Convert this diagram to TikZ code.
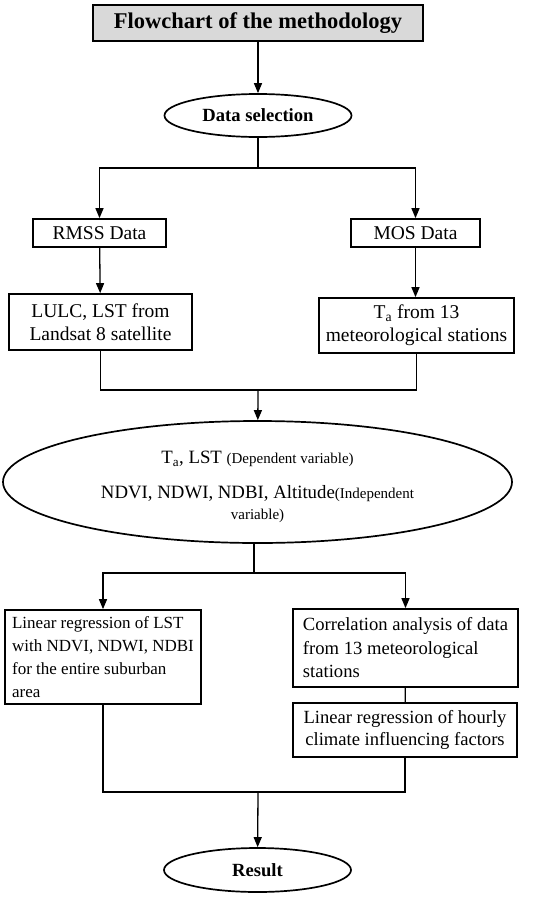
\documentclass[tikz,border=0pt]{standalone}
\usepackage{fontspec}
\setmainfont{Liberation Serif}
\usepackage{tikz}
\usetikzlibrary{arrows.meta,shapes.geometric}

\newcommand{\boxfont}{\fontsize{19.5}{23}\selectfont}
\newcommand{\smallvar}{\fontsize{15}{18}\selectfont}

\begin{document}
\begin{tikzpicture}[x=1pt,y=-1pt,
    conn/.style={line width=1.3pt},
    arr/.style={conn,-{Triangle[length=10pt,width=8pt]}},
    stepbox/.style={draw,line width=1.7pt,inner sep=2pt,font=\boxfont},
    oval/.style={ellipse,draw,line width=1.7pt,inner sep=0pt},
    ]
    \useasboundingbox (0,0) rectangle (550,897);
    % Title and first oval
    \node[draw,line width=2.8pt,fill=black!15,minimum width=330pt,minimum height=36pt,
        font=\fontsize{22.5}{26}\selectfont\bfseries] (title) at (258,23) {Flowchart of the methodology};
    \node[oval,minimum width=187pt,minimum height=43pt,font=\fontsize{18.6}{22}\selectfont\bfseries]
        (datasel) at (258,115.5) {Data selection};
    % Data sources
    \node[stepbox,minimum width=133pt,minimum height=28pt] (rmss) at (99.5,233) {RMSS Data};
    \node[stepbox,minimum width=129pt,minimum height=28pt] (mos) at (415.5,233) {MOS Data};
    \node[stepbox,minimum width=183pt,minimum height=56pt,align=center] (lulc) at (100.5,322)
        {LULC, LST from\\Landsat 8 satellite};
    \node[stepbox,minimum width=195pt,minimum height=55pt,align=center] (ta) at (416.5,325.5)
        {T\textsubscript{a} from 13\\meteorological stations};
    % Variables
    \node[oval,minimum width=509pt,minimum height=122pt,align=center,
        font=\fontsize{18.8}{22}\selectfont] (vars) at (257.5,482)
        {\rule{0pt}{22pt}T\textsubscript{a}, LST {\smallvar (Dependent variable)}\\[13pt]
         NDVI, NDWI, NDBI, Altitude{\smallvar(Independent}\\[-1pt]
         {\smallvar variable)}};
    % Analyses
    \node[stepbox,minimum width=196pt,minimum height=94pt,align=left,
        font=\fontsize{17}{23}\selectfont] (linreg) at (103,657)
        {Linear regression of LST\\with NDVI, NDWI, NDBI\\for the entire suburban\\area};
    \node[stepbox,minimum width=225pt,minimum height=78pt,align=left,
        font=\fontsize{18.6}{23.5}\selectfont] (corr) at (405.5,648)
        {Correlation analysis of data\\from 13 meteorological\\stations};
    \node[stepbox,minimum width=224pt,minimum height=54pt,align=center,
        font=\fontsize{18.6}{22}\selectfont] (hourly) at (405,730)
        {Linear regression of hourly\\climate influencing factors};
    \node[oval,minimum width=187pt,minimum height=44pt,font=\fontsize{18.6}{22}\selectfont\bfseries]
        (result) at (257.5,870) {Result};
    % Split and join points
    \coordinate (split1) at (258,168);
    \coordinate (join1) at (258,390);
    \coordinate (split2) at (254,573);
    \coordinate (join2) at (258,792);
    % Connectors
    \draw[arr] (title) -- (datasel);
    \draw[conn] (datasel) -- (split1);
    \draw[arr] (split1) -| (rmss);
    \draw[arr] (split1) -| (mos);
    \draw[arr] (rmss) -- (lulc);
    \draw[arr] (mos.south) -- (mos.south |- ta.north);
    \draw[conn] (lulc) |- (join1) -| (ta);
    \draw[arr] (join1) -- (vars);
    \draw[conn] (vars.south -| split2) -- (split2);
    \draw[arr] (split2) -| (linreg);
    \draw[arr] (split2) -| (corr);
    \draw[conn] (corr) -- (hourly);
    \draw[conn] (linreg) |- (join2) -| (hourly);
    \draw[arr] (join2) -- (result);
\end{tikzpicture}
\end{document}
